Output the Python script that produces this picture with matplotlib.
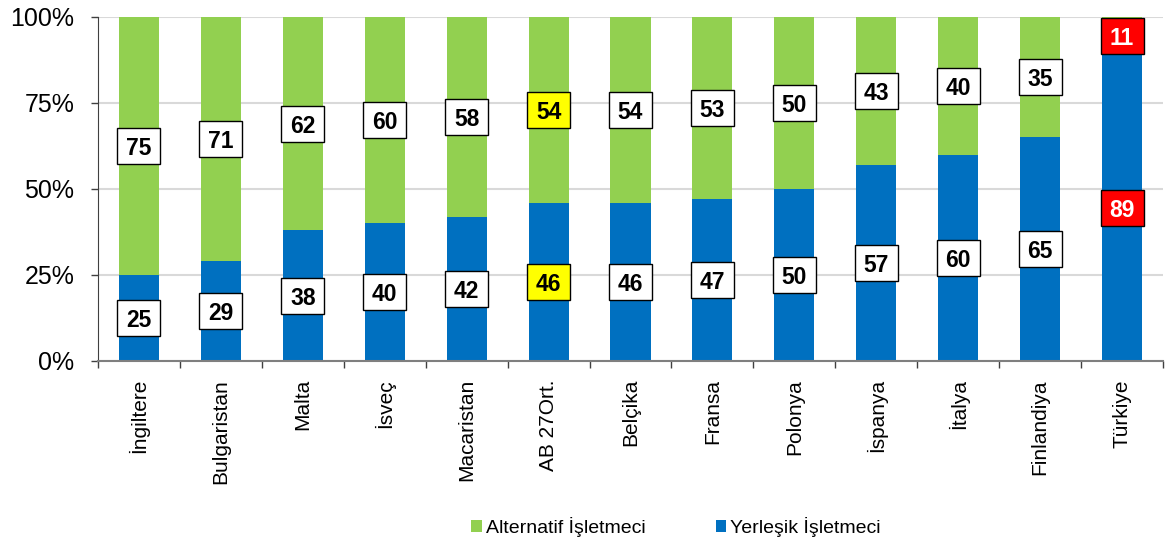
import matplotlib
matplotlib.use("Agg")
import matplotlib.pyplot as plt
import matplotlib.transforms as mtransforms
from matplotlib.patches import Rectangle
import numpy as np

plt.rcParams['font.family'] = ['Liberation Sans', 'DejaVu Sans']

categories = ["İngiltere", "Bulgaristan", "Malta", "İsveç", "Macaristan", "AB 27Ort.",
              "Belçika", "Fransa", "Polonya", "İspanya", "İtalya", "Finlandiya", "Türkiye"]
yerlesik = [25, 29, 38, 40, 42, 46, 46, 47, 50, 57, 60, 65, 89]
alternatif = [75, 71, 62, 60, 58, 54, 54, 53, 50, 43, 40, 35, 11]
series_names = ["Alternatif İşletmeci", "Yerleşik İşletmeci"]
yticks = [0, 25, 50, 75, 100]
ytick_labels = ["0%", "25%", "50%", "75%", "100%"]

GREEN = "#92D050"
BLUE = "#0070C0"

fig = plt.figure(figsize=(11.66, 5.44), dpi=100)
ax = fig.add_axes([98/1166, 1-361/544, (1163-98)/1166, (361-17)/544])

x = np.arange(len(categories))
w = 0.49
ax.bar(x, yerlesik, width=w, color=BLUE, zorder=2, label=series_names[1])
ax.bar(x, alternatif, width=w, bottom=yerlesik, color=GREEN, zorder=2, label=series_names[0])

def label_style(cat):
    if cat == "AB 27Ort.":
        return "#FFFF00", "black"
    if cat == "Türkiye":
        return "#FF0000", "white"
    return "white", "black"

for i, cat in enumerate(categories):
    fc, tc = label_style(cat)
    centers = [(yerlesik[i] / 2, yerlesik[i]),
               (yerlesik[i] + alternatif[i] / 2, alternatif[i])]
    for yc, val in centers:
        tr = fig.dpi_scale_trans + mtransforms.ScaledTranslation(x[i], yc, ax.transData)
        rect = Rectangle((-0.215, -0.18), 0.43, 0.36, transform=tr,
                         facecolor=fc, edgecolor="black", linewidth=1.0, zorder=4,
                         clip_on=False)
        ax.add_patch(rect)
        ax.text(x[i], yc, str(val), ha="center", va="center_baseline",
                fontsize=16.5, fontweight="bold", color=tc, zorder=5)

ax.set_xlim(-0.5, len(categories) - 0.5)
ax.set_ylim(0, 100)
ax.set_yticks(yticks)
ax.set_yticklabels(ytick_labels, fontsize=18)
ax.tick_params(axis="y", length=5, width=1, color="#404040", pad=12)
ax.yaxis.grid(True, color="#d9d9d9", linewidth=1.5, zorder=0)
ax.set_axisbelow(True)

ax.set_xticks(x)
ax.set_xticklabels(categories, rotation=90, fontsize=15, va="top", ha="center")
ax.set_xticks(np.arange(-0.5, len(categories)), minor=True)
ax.tick_params(axis="x", which="major", length=0, pad=13)
ax.tick_params(axis="x", which="minor", length=5, width=1, color="#404040")

for s in ["top", "right"]:
    ax.spines[s].set_visible(False)
ax.spines["left"].set_color("#404040")
ax.spines["bottom"].set_color("#7f7f7f")
ax.spines["bottom"].set_linewidth(1.5)

handles, labels = ax.get_legend_handles_labels()
order = [1, 0]
fig.legend([handles[k] for k in order], [labels[k] for k in order],
           loc="center", bbox_to_anchor=(676/1166, 1-527/544), ncol=2, frameon=False,
           fontsize=14, handlelength=0.55, handleheight=0.55, handletextpad=0.2,
           columnspacing=3.6, borderaxespad=0)

fig.savefig("out.png", dpi=100)
